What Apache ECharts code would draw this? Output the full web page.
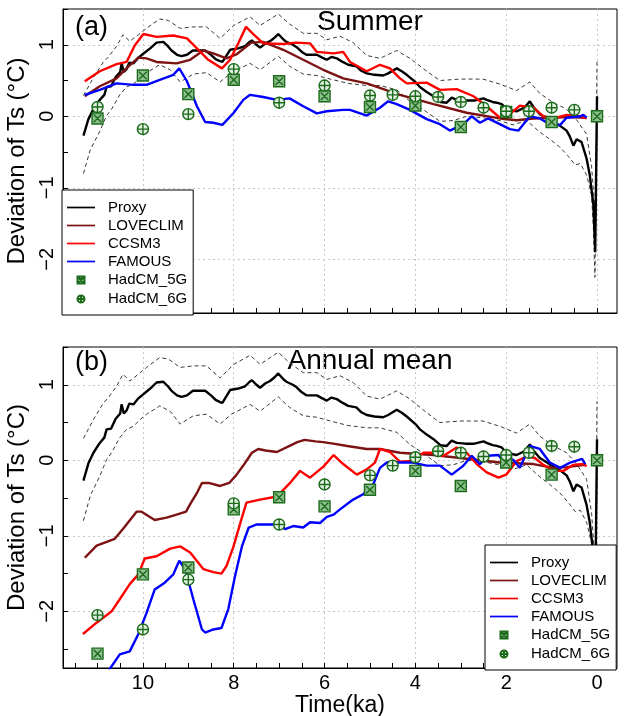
<!DOCTYPE html>
<html>
<head>
<meta charset="utf-8">
<script src="https://cdn.jsdelivr.net/npm/echarts@6/dist/echarts.min.js"></script>
<style>html,body{margin:0;padding:0;background:#fff}#c{width:624px;height:716px}</style>
</head>
<body>
<div id="c"></div>
<script>
// ---------- DATA (time in ka BP, deviation in °C) ----------
const proxy = [[11.31,-0.27],[11.2,-0.04],[11.09,0.1],[10.95,0.23],[10.85,0.3],[10.8,0.41],[10.7,0.42],[10.6,0.55],[10.5,0.62],[10.47,0.74],[10.42,0.62],[10.36,0.66],[10.3,0.75],[10.21,0.74],[10.1,0.82],[10.0,0.87],[9.84,0.95],[9.7,1.03],[9.55,1.04],[9.45,0.98],[9.37,0.92],[9.25,0.86],[9.15,0.84],[9.03,0.86],[8.9,0.92],[8.75,0.92],[8.63,0.92],[8.5,0.86],[8.4,0.8],[8.3,0.77],[8.25,0.76],[8.15,0.86],[8.08,0.93],[7.9,0.95],[7.75,0.98],[7.65,1.04],[7.6,1.06],[7.5,1.0],[7.42,0.96],[7.3,1.02],[7.2,1.05],[7.1,1.1],[7.02,1.15],[6.9,1.07],[6.84,1.04],[6.7,1.0],[6.62,0.97],[6.5,0.9],[6.4,0.86],[6.17,0.86],[6.05,0.82],[5.95,0.79],[5.85,0.83],[5.73,0.81],[5.6,0.76],[5.48,0.72],[5.3,0.7],[5.2,0.64],[5.07,0.6],[4.9,0.58],[4.71,0.57],[4.6,0.6],[4.41,0.67],[4.3,0.63],[4.19,0.58],[4.0,0.48],[3.9,0.41],[3.75,0.34],[3.6,0.28],[3.45,0.2],[3.31,0.19],[3.2,0.26],[3.09,0.23],[2.9,0.22],[2.7,0.22],[2.5,0.25],[2.43,0.23],[2.3,0.2],[2.21,0.19],[2.1,0.17],[1.99,0.1],[1.85,0.08],[1.77,0.07],[1.6,0.12],[1.48,0.21],[1.4,0.13],[1.26,0.03],[1.1,-0.03],[0.96,-0.09],[0.82,-0.13],[0.67,-0.2],[0.6,-0.28],[0.52,-0.41],[0.45,-0.32],[0.34,-0.36],[0.23,-0.59],[0.16,-0.82],[0.08,-1.24],[0.04,-1.9],[0.0,0.28]];
const proxyUpper = [[11.31,0.29],[11.09,0.54],[10.87,0.76],[10.76,0.83],[10.58,0.98],[10.44,1.14],[10.29,1.05],[10.1,1.14],[9.92,1.23],[9.63,1.36],[9.44,1.34],[9.18,1.23],[8.89,1.25],[8.6,1.25],[8.3,1.09],[8.0,1.27],[7.64,1.39],[7.42,1.27],[7.02,1.43],[6.77,1.29],[6.47,1.16],[6.17,1.16],[5.95,1.07],[5.66,1.12],[5.37,1.03],[5.07,0.85],[4.78,0.81],[4.41,0.92],[4.12,0.81],[3.75,0.63],[3.46,0.5],[3.02,0.52],[2.51,0.52],[2.14,0.45],[1.77,0.36],[1.48,0.48],[1.26,0.32],[0.96,0.19],[0.67,0.1],[0.45,-0.05],[0.23,-0.25],[0.12,-0.7],[0.06,-1.2],[0.03,-1.5],[0.0,0.78]];
const proxyLower = [[11.31,-0.8],[11.16,-0.47],[10.95,-0.21],[10.8,0.01],[10.69,0.1],[10.51,0.3],[10.36,0.41],[10.21,0.45],[10.06,0.54],[9.92,0.61],[9.63,0.72],[9.4,0.65],[9.18,0.48],[8.89,0.59],[8.6,0.61],[8.3,0.48],[8.05,0.61],[7.64,0.74],[7.42,0.65],[7.02,0.84],[6.77,0.7],[6.47,0.59],[6.17,0.57],[5.87,0.52],[5.48,0.46],[5.07,0.43],[4.78,0.43],[4.41,0.37],[4.12,0.21],[3.75,0.06],[3.46,-0.07],[3.17,-0.06],[2.87,0.0],[2.51,-0.02],[2.14,-0.06],[1.85,-0.12],[1.55,-0.06],[1.26,-0.22],[1.04,-0.32],[0.82,-0.43],[0.63,-0.56],[0.48,-0.68],[0.37,-0.66],[0.23,-0.82],[0.12,-1.1],[0.08,-1.56],[0.045,-2.25],[0.0,-0.2]];

// Summer (a)
const loveclimSummer = [[11.28,0.28],[10.95,0.42],[10.58,0.53],[10.33,0.69],[10.1,0.82],[9.92,0.81],[9.7,0.76],[9.26,0.74],[8.96,0.79],[8.67,0.92],[8.45,0.88],[8.16,0.81],[7.93,0.87],[7.61,1.03],[7.35,1.04],[6.91,0.93],[6.47,0.79],[6.03,0.65],[5.59,0.53],[5.07,0.46],[4.34,0.3],[3.6,0.17],[2.87,0.05],[2.14,-0.03],[1.77,-0.055],[1.4,-0.03],[0.96,-0.02],[0.67,-0.01],[0.23,-0.02]];
const ccsm3Summer = [[11.28,0.49],[10.95,0.63],[10.58,0.73],[10.36,0.76],[10.18,0.99],[9.99,1.15],[9.7,1.11],[9.33,1.13],[9.03,1.09],[8.81,0.95],[8.56,0.79],[8.26,0.67],[8.08,0.79],[7.9,1.02],[7.73,1.25],[7.57,1.15],[7.35,1.02],[6.91,1.01],[6.62,1.03],[6.32,1.02],[6.17,0.9],[5.8,0.88],[5.59,0.9],[5.44,0.76],[5.07,0.63],[4.78,0.72],[4.56,0.67],[4.34,0.53],[4.19,0.46],[3.75,0.47],[3.46,0.37],[3.09,0.38],[2.72,0.28],[2.43,0.14],[2.14,-0.02],[1.92,0.03],[1.7,0.15],[1.4,0.12],[1.18,0.0],[0.96,-0.03],[0.67,0.02],[0.37,0.0],[0.23,-0.03]];
const famousSummer = [[11.28,0.3],[10.95,0.37],[10.58,0.46],[10.21,0.44],[9.92,0.44],[9.63,0.51],[9.33,0.58],[9.2,0.67],[9.03,0.49],[8.81,0.14],[8.63,-0.08],[8.45,-0.09],[8.25,-0.12],[8.0,0.05],[7.79,0.23],[7.64,0.3],[7.35,0.27],[7.05,0.23],[6.77,0.25],[6.47,0.14],[6.17,0.04],[5.95,0.07],[5.59,0.09],[5.44,0.09],[5.07,0.01],[4.78,0.12],[4.6,0.21],[4.41,0.17],[4.12,0.09],[3.75,-0.04],[3.46,-0.11],[3.24,-0.2],[2.94,-0.11],[2.76,0.0],[2.58,-0.09],[2.4,-0.03],[2.14,-0.11],[1.92,-0.18],[1.73,-0.2],[1.48,0.0],[1.26,-0.03],[1.07,-0.1],[0.81,-0.12],[0.67,-0.02],[0.37,0.0],[0.3,0.02],[0.23,-0.02]];
const hadcm5gSummer = [[11,-0.03],[10,0.57],[9,0.31],[8,0.51],[7,0.49],[6,0.28],[5,0.13],[4,0.15],[3,-0.15],[2,0.06],[1,-0.08],[0,0.0]];
const hadcm6gSummer = [[11,0.13],[10,-0.18],[9,0.03],[8,0.66],[7,0.19],[6,0.43],[5,0.29],[4.5,0.3],[4,0.28],[3.5,0.27],[3,0.2],[2.5,0.12],[2,0.07],[1.5,0.07],[1,0.12],[0.5,0.09]];

// Annual mean (b)
const loveclimAnnual = [[11.28,-1.29],[11.02,-1.13],[10.62,-1.04],[10.44,-0.91],[10.14,-0.68],[10.03,-0.68],[9.74,-0.79],[9.48,-0.76],[9.26,-0.72],[9.05,-0.68],[8.95,-0.57],[8.8,-0.42],[8.7,-0.3],[8.55,-0.3],[8.3,-0.34],[8.1,-0.3],[7.95,-0.2],[7.79,-0.07],[7.6,0.1],[7.46,0.15],[7.3,0.13],[7.05,0.11],[6.77,0.19],[6.6,0.24],[6.44,0.27],[6.2,0.25],[6.03,0.24],[5.81,0.22],[5.5,0.19],[5.07,0.15],[4.78,0.15],[4.34,0.1],[3.6,0.07],[2.87,0.02],[2.14,-0.03],[1.4,-0.05],[0.96,-0.1],[0.67,-0.09],[0.26,-0.06]];
const ccsm3Annual = [[11.32,-2.3],[11.02,-2.15],[10.69,-2.0],[10.51,-1.84],[10.29,-1.64],[10.1,-1.51],[9.96,-1.3],[9.7,-1.27],[9.4,-1.17],[9.18,-1.14],[8.96,-1.22],[8.67,-1.44],[8.45,-1.48],[8.27,-1.5],[8.16,-1.4],[8.01,-1.15],[7.83,-0.78],[7.72,-0.56],[7.42,-0.52],[7.05,-0.48],[6.76,-0.3],[6.54,-0.14],[6.32,-0.23],[6.02,-0.08],[5.8,0.07],[5.59,-0.05],[5.29,-0.19],[5.07,-0.12],[4.89,-0.03],[4.78,0.15],[4.56,0.11],[4.34,-0.02],[4.12,-0.01],[3.82,0.1],[3.6,0.1],[3.38,0.06],[3.09,0.17],[2.87,0.1],[2.65,-0.05],[2.43,-0.16],[2.17,-0.23],[2.0,-0.19],[1.77,-0.01],[1.55,0.05],[1.37,0.03],[1.18,-0.06],[0.96,-0.14],[0.74,-0.14],[0.52,-0.06],[0.3,-0.05],[0.23,-0.08]];
const famousAnnual = [[10.75,-2.78],[10.51,-2.57],[10.29,-2.53],[10.1,-2.3],[9.92,-2.02],[9.74,-1.71],[9.52,-1.62],[9.33,-1.51],[9.2,-1.33],[9.07,-1.44],[8.89,-1.84],[8.7,-2.24],[8.63,-2.28],[8.45,-2.24],[8.27,-2.22],[8.12,-1.97],[7.97,-1.53],[7.82,-1.14],[7.67,-0.89],[7.49,-0.85],[7.2,-0.85],[7.02,-0.85],[6.87,-0.91],[6.69,-0.87],[6.47,-0.89],[6.32,-0.82],[6.1,-0.83],[5.95,-0.75],[5.8,-0.72],[5.66,-0.65],[5.37,-0.52],[5.15,-0.45],[4.93,-0.32],[4.78,-0.1],[4.63,-0.03],[4.48,-0.03],[4.34,-0.03],[4.06,-0.03],[3.75,-0.07],[3.46,-0.07],[3.2,-0.19],[2.94,-0.07],[2.76,0.06],[2.58,-0.05],[2.4,0.06],[2.17,0.07],[2.02,-0.05],[1.85,0.01],[1.7,-0.1],[1.48,0.19],[1.26,0.15],[1.04,-0.03],[0.81,-0.1],[0.59,-0.03],[0.33,0.02],[0.26,-0.05]];
const hadcm5gAnnual = [[11,-2.56],[10,-1.51],[9,-1.42],[8,-0.65],[7,-0.49],[6,-0.61],[5,-0.39],[4,-0.14],[3,-0.34],[2,-0.03],[1,-0.19],[0,0.0]];
const hadcm6gAnnual = [[11,-2.05],[10,-2.24],[9,-1.58],[8,-0.57],[7,-0.85],[6,-0.32],[5,-0.2],[4.5,-0.07],[4,0.04],[3.5,0.12],[3,0.1],[2.5,0.05],[2,0.07],[1.5,0.1],[1,0.19],[0.5,0.18]];

// ticks and labels
const xMinorTicks = [0,0.5,1,1.5,2,2.5,3,3.5,4,4.5,5,5.5,6,6.5,7,7.5,8,8.5,9,9.5,10,10.5,11,11.5];
const xTickLabels = [0,2,4,6,8,10];
const yMinorTicks = [-2.5,-2,-1.5,-1,-0.5,0,0.5,1,1.5];
const yTickLabels = [-2,-1,0,1];
const seriesNames = ['Proxy','LOVECLIM','CCSM3','FAMOUS','HadCM_5G','HadCM_6G'];
const panelTitles = ['Summer','Annual mean'];
const panelTags = ['(a)','(b)'];

// ---------- STYLE ----------
const FONT = 'Liberation Sans, Arial, Helvetica, sans-serif';
const COL = {Proxy:'#000000', LOVECLIM:'#7d1212', CCSM3:'#ff0000', FAMOUS:'#0000ff'};
const GREEN = '#1b6b1b';
const SQ = 'path://M0,0L10,0L10,10L0,10Z M1.5,1.5L8.5,8.5 M8.5,1.5L1.5,8.5';
const CI = 'path://M10,5A5,5,0,1,1,0,5A5,5,0,1,1,10,5Z M5,0L5,10 M0,5L10,5';
const SQL = 'path://M-5,-5 M15,15 M0,0L10,0L10,10L0,10Z M1.5,1.5L8.5,8.5 M8.5,1.5L1.5,8.5';
const CIL = 'path://M-5,-5 M15,15 M10,5A5,5,0,1,1,0,5A5,5,0,1,1,10,5Z M5,0L5,10 M0,5L10,5';
const LINEICON = 'path://M0,0L28,0L28,1.7L0,1.7Z';

const XMIN = -0.44, XMAX = 11.76, YMIN = -2.75, YMAX = 1.5;
const fmtY = v => (v < 0 ? '\u2212' + Math.abs(v) : String(v));

function xAxes(grid, labels) {
  return [
    { gridIndex: grid, type: 'value', inverse: true, min: XMIN, max: XMAX,
      axisLine: { show: true, onZero: false, lineStyle: { color: '#000', width: 1 } },
      axisTick: { show: true, inside: true, length: 5, customValues: xMinorTicks, lineStyle: { color: '#000' } },
      axisLabel: { show: labels, customValues: xTickLabels, fontSize: 20, color: '#000', fontFamily: FONT, margin: 5 },
      splitLine: { show: false },
      name: labels ? 'Time(ka)' : '', nameLocation: 'middle', nameGap: 18,
      nameTextStyle: { fontSize: 23, color: '#000', fontFamily: FONT } },
    { gridIndex: grid, type: 'value', inverse: true, min: XMIN, max: XMAX, position: 'bottom',
      axisLine: { show: false }, axisTick: { show: false, customValues: xTickLabels },
      axisLabel: { show: false, customValues: xTickLabels },
      splitLine: { show: true, lineStyle: { color: '#c8c8c8', type: [2, 3], width: 1 } } }
  ];
}
function yAxes(grid) {
  return [
    { gridIndex: grid, type: 'value', min: YMIN, max: YMAX,
      axisLine: { show: true, onZero: false, lineStyle: { color: '#000', width: 1 } },
      axisTick: { show: true, inside: true, length: 5, customValues: yMinorTicks, lineStyle: { color: '#000' } },
      axisLabel: { show: true, customValues: yTickLabels, rotate: 90, formatter: fmtY, fontSize: 20, color: '#000', fontFamily: FONT, margin: 6 },
      splitLine: { show: false },
      name: 'Deviation of Ts (\u00B0C)', nameLocation: 'middle', nameRotate: 90, nameGap: 23,
      nameTextStyle: { fontSize: 24, color: '#000', fontFamily: FONT } },
    { gridIndex: grid, type: 'value', min: YMIN, max: YMAX, position: 'left',
      axisLine: { show: false }, axisTick: { show: false, customValues: yTickLabels },
      axisLabel: { show: false, customValues: yTickLabels },
      splitLine: { show: true, lineStyle: { color: '#c8c8c8', type: [2, 3], width: 1 } } }
  ];
}

function panelSeries(p, lov, ccs, fam, h5, h6) {
  const xi = p * 2, yi = p * 2;
  const line = (name, data, color) => ({
    name, type: 'line', xAxisIndex: xi, yAxisIndex: yi, data, symbol: 'none',
    lineStyle: { color, width: 2.4 }, itemStyle: { color }, z: 3, silent: true
  });
  const dash = (name, data) => ({
    name, type: 'line', xAxisIndex: xi, yAxisIndex: yi, data, symbol: 'none',
    lineStyle: { color: '#3a3a3a', width: 1, type: [4, 3] }, itemStyle: { color: '#3a3a3a' }, z: 2, silent: true
  });
  const pts = (name, data, sym, fill) => ({
    name, type: 'scatter', xAxisIndex: xi, yAxisIndex: yi, data, symbol: sym, symbolSize: 11,
    itemStyle: { color: fill, borderColor: GREEN, borderWidth: 1.4, opacity: 1 }, z: 5, silent: true
  });
  return [
    dash('Proxy upper', proxyUpper),
    dash('Proxy lower', proxyLower),
    line('Proxy', proxy, COL.Proxy),
    line('LOVECLIM', lov, COL.LOVECLIM),
    line('CCSM3', ccs, COL.CCSM3),
    line('FAMOUS', fam, COL.FAMOUS),
    pts('HadCM_5G', h5, SQ, '#8fbf8f'),
    pts('HadCM_6G', h6, CI, '#e4f0e4')
  ];
}

function legendFor(left, top) {
  return {
    orient: 'vertical', left, top, padding: [10, 6, 8, 5],
    itemWidth: 28, itemHeight: 14, itemGap: 3,
    backgroundColor: '#fff', borderColor: '#000', borderWidth: 1, borderRadius: 0,
    symbolKeepAspect: true,
    textStyle: { fontSize: 15, lineHeight: 14, color: '#000', fontFamily: FONT, padding: [0, 0, 0, 8] },
    data: seriesNames.map(n => n === 'HadCM_5G' ? { name: n, icon: SQL }
      : n === 'HadCM_6G' ? { name: n, icon: CIL }
      : { name: n, icon: LINEICON, itemStyle: { color: COL[n], borderWidth: 0 } }),
    selectedMode: false
  };
}

const chart = echarts.init(document.getElementById('c'), null, { renderer: 'canvas' });
chart.setOption({
  animation: false,
  backgroundColor: '#fff',
  textStyle: { fontFamily: FONT },
  grid: [
    { left: 63, top: 9, width: 554, height: 304, show: true, borderColor: '#000', borderWidth: 1, backgroundColor: 'transparent', containLabel: false, outerBoundsMode: 'none' },
    { left: 63, top: 347, width: 554, height: 321, show: true, borderColor: '#000', borderWidth: 1, backgroundColor: 'transparent', containLabel: false, outerBoundsMode: 'none' }
  ],
  xAxis: [...xAxes(0, false), ...xAxes(1, true)],
  yAxis: [...yAxes(0), ...yAxes(1)],
  legend: [legendFor(62, 190), legendFor(485, 545)],
  graphic: [
    { type: 'text', left: 75, top: 14, style: { text: panelTags[0], fontSize: 27, fill: '#000', fontFamily: FONT } },
    { type: 'text', x: 370, y: 8, style: { text: panelTitles[0], fontSize: 28, fill: '#000', fontFamily: FONT, textAlign: 'center', textVerticalAlign: 'top' } },
    { type: 'text', left: 75, top: 349, style: { text: panelTags[1], fontSize: 27, fill: '#000', fontFamily: FONT } },
    { type: 'text', x: 370, y: 347, style: { text: panelTitles[1], fontSize: 28, fill: '#000', fontFamily: FONT, textAlign: 'center', textVerticalAlign: 'top' } }
  ],
  series: [
    ...panelSeries(0, loveclimSummer, ccsm3Summer, famousSummer, hadcm5gSummer, hadcm6gSummer),
    ...panelSeries(1, loveclimAnnual, ccsm3Annual, famousAnnual, hadcm5gAnnual, hadcm6gAnnual)
  ]
});
</script>
</body>
</html>
